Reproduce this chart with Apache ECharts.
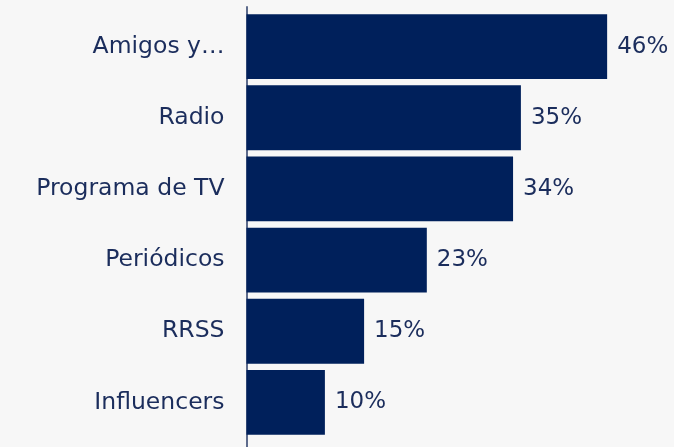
<!DOCTYPE html>
<html><head><meta charset="utf-8">
<script src="https://cdn.jsdelivr.net/npm/echarts@6/dist/echarts.min.js"></script>
<style>html,body{margin:0;padding:0;background:#f7f7f7;}#c{width:674px;height:447px;}</style>
</head><body><div id="c"></div>
<script>
const categories = ["Amigos y…", "Radio", "Programa de TV", "Periódicos", "RRSS", "Influencers"];
const values = [46, 35, 34, 23, 15, 10];
const FONT = "DejaVu Sans";
const chart = echarts.init(document.getElementById('c'));
chart.setOption({
  backgroundColor: '#f7f7f7',
  animation: false,
  grid: [
    {left: 246.5, right: 35.5, top: 11, height: 427, containLabel: false},
    {left: 246.5, right: 35.5, top: 7, bottom: -5, containLabel: false}
  ],
  xAxis: [
    {gridIndex: 0, type: 'value', min: 0, max: 50, show: false},
    {gridIndex: 1, type: 'value', min: 0, max: 50, show: false}
  ],
  yAxis: [
    {gridIndex: 0, type: 'category', data: categories, inverse: true,
     axisLine: {show: false}, axisTick: {show: false},
     axisLabel: {color: '#1b2d5c', fontFamily: FONT, fontSize: 23.5, margin: 22}},
    {gridIndex: 1, type: 'category', data: categories, inverse: true,
     axisLine: {show: true, lineStyle: {color: '#5d6b8c', width: 2}},
     axisTick: {show: false}, axisLabel: {show: false}}
  ],
  series: [{
    type: 'bar', xAxisIndex: 0, yAxisIndex: 0, data: values,
    barCategoryGap: '9%',
    itemStyle: {color: '#00205b'},
    label: {show: true, position: 'right', distance: 10, formatter: '{c}%',
      color: '#1b2d5c', fontFamily: FONT, fontSize: 23}
  }]
});
</script></body></html>
